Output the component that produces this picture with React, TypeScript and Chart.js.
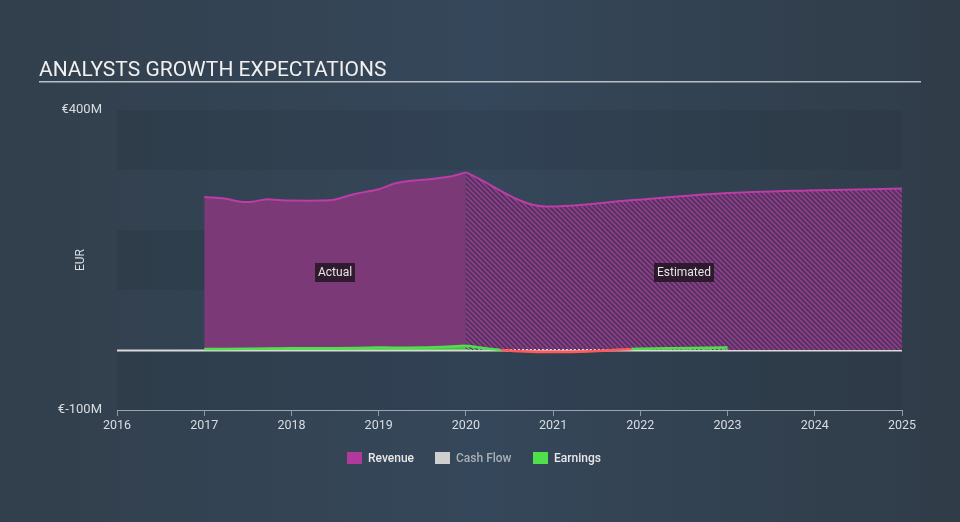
import React, { useEffect, useRef } from "react";
import { Chart, registerables } from "chart.js";

Chart.register(...registerables);

// ---------- data ----------
const yearTicks = [2016, 2017, 2018, 2019, 2020, 2021, 2022, 2023, 2024, 2025];
const yTickValues = [-100, 400];
const yTickLabels = ["€-100M", "€400M"];

const revenueActualYears = [2017.0, 2017.1, 2017.25, 2017.42, 2017.55, 2017.7, 2017.85, 2018.0, 2018.33, 2018.5, 2018.72, 2019.0, 2019.17, 2019.3, 2019.6, 2019.82, 2020.0];
const revenueActualValues = [255, 254, 252, 247, 247, 251, 250, 249, 249, 251, 260, 268, 277, 281, 285, 289, 296];

const revenueEstYears = [2020.0, 2020.92, 2021.92, 2022.92, 2023.92, 2025.0];
const revenueEstValues = [296, 239, 250, 261, 266, 269];

const earningsActualYears = [2017.0, 2017.5, 2018.0, 2018.5, 2019.0, 2019.5, 2020.0];
const earningsActualValues = [1.5, 2, 3, 3, 4, 4, 7];

const earningsEstYears = [2020.0, 2020.4, 2020.95, 2021.4, 2021.9, 2022.4, 2023.0];
const earningsEstValues = [7, 0, -3.5, -2.5, 1.5, 3, 4];

const cashFlowActualYears = [2017.0, 2018.0, 2019.0, 2020.0];
const cashFlowActualValues = [0.8, 0.8, 0.8, 0.8];

const cashFlowEstYears = [2020.0, 2021.0, 2022.0, 2023.0];
const cashFlowEstValues = [0.5, 0.5, 0.5, 0.5];

const legendLabels = ["Revenue", "Cash Flow", "Earnings"];
const legendColors = ["#b0399c", "#cfcfcf", "#4fe04b"];
const legendTextColors = ["#e8e8e8", "#a9b0b8", "#e8e8e8"];

const titleText = "ANALYSTS GROWTH EXPECTATIONS";
const axisTitle = "EUR";
const actualLabel = "Actual";
const estimatedLabel = "Estimated";

const toPoints = (xs: number[], ys: number[]) => xs.map((x, i) => ({ x, y: ys[i] }));

function makePattern(base: string, line: string, size: number, lw: number) {
  const c = document.createElement("canvas");
  c.width = size;
  c.height = size;
  const g = c.getContext("2d")!;
  g.fillStyle = base;
  g.fillRect(0, 0, size, size);
  g.strokeStyle = line;
  g.lineWidth = lw;
  g.beginPath();
  g.moveTo(-1, -1);
  g.lineTo(size + 1, size + 1);
  g.moveTo(-1, size - 1);
  g.lineTo(1, size + 1);
  g.moveTo(size - 1, -1);
  g.lineTo(size + 1, 1);
  g.stroke();
  const p = g.createPattern(c, "repeat");
  return p as CanvasPattern;
}

export default function App() {
  const ref = useRef<HTMLCanvasElement>(null);

  useEffect(() => {
    const canvas = ref.current!;

    const revPattern = makePattern("rgba(80,52,92,1)", "#923d8e", 5, 1.6);
    const earnPattern = makePattern("rgba(60,120,70,0.5)", "#55e050", 5, 1.2);

    const bgPlugin = {
      id: "bg",
      beforeDraw(chart: any) {
        const { ctx, width, height } = chart;
        const g = ctx.createLinearGradient(0, 0, width, 0);
        g.addColorStop(0, "#323f4c");
        g.addColorStop(0.5, "#35475a");
        g.addColorStop(1, "#303c48");
        ctx.save();
        ctx.fillStyle = g;
        ctx.fillRect(0, 0, width, height);
        // title
        ctx.fillStyle = "#f0f0f0";
        ctx.font = "21px Roboto";
        ctx.textBaseline = "alphabetic";
        ctx.textAlign = "left";
        ctx.fillText(titleText, 39, 76);
        ctx.fillStyle = "rgba(200,205,212,0.9)";
        ctx.fillRect(39, 81, 882, 1.5);
        // bands
        const ys = chart.scales.y;
        const ca = chart.chartArea;
        const bands = [[300, 400], [100, 200], [-100, 0]];
        ctx.fillStyle = "rgba(20,30,40,0.1)";
        bands.forEach(([a, b]) => {
          const t = ys.getPixelForValue(b);
          const btm = ys.getPixelForValue(a);
          ctx.fillRect(ca.left, t, ca.right - ca.left, btm - t);
        });
        // axis title
        ctx.save();
        ctx.translate(81, (ca.top + ca.bottom) / 2);
        ctx.rotate(-Math.PI / 2);
        ctx.fillStyle = "#d8dde2";
        ctx.font = "12px Roboto";
        ctx.textAlign = "center";
        ctx.textBaseline = "middle";
        ctx.fillText(axisTitle, 0, 0);
        ctx.restore();
        ctx.restore();
      },
      beforeDatasetsDraw(chart: any) {
        const { ctx } = chart;
        const ys = chart.scales.y;
        const ca = chart.chartArea;
        const y0 = ys.getPixelForValue(0);
        ctx.save();
        ctx.fillStyle = "#d9d9d9";
        ctx.fillRect(ca.left, y0 - 0.5, ca.right - ca.left, 2);
        ctx.restore();
      },
      afterDraw(chart: any) {
        const { ctx } = chart;
        const xs = chart.scales.x;
        const ys = chart.scales.y;
        ctx.save();
        ctx.font = "12px Roboto";
        ctx.textBaseline = "middle";
        ctx.textAlign = "center";
        const boxes = [
          [actualLabel, (2017 + 2020) / 2],
          [estimatedLabel, (2020 + 2025) / 2],
        ] as [string, number][];
        boxes.forEach(([label, xv]) => {
          const cx = xs.getPixelForValue(xv);
          const cy = ys.getPixelForValue(130);
          const w = ctx.measureText(label).width + 6;
          ctx.fillStyle = "rgba(36,22,36,0.88)";
          ctx.fillRect(Math.round(cx - w / 2), Math.round(cy - 9.5), Math.round(w), 19);
          ctx.fillStyle = "#e6e6e6";
          ctx.fillText(label, cx, cy + 0.5);
        });
        // legend
        const boxX = [347, 435, 533];
        legendLabels.forEach((lab, i) => {
          ctx.fillStyle = legendColors[i];
          ctx.fillRect(boxX[i], 452, 15, 12);
          ctx.fillStyle = legendTextColors[i];
          ctx.textAlign = "left";
          ctx.font = "500 12px Roboto";
          ctx.fillText(lab, boxX[i] + 21, 458.5);
        });
        ctx.restore();
      },
    };

    const chart = new Chart(canvas, {
      type: "line",
      data: {
        datasets: [
          {
            label: "Earnings actual",
            data: toPoints(earningsActualYears, earningsActualValues),
            borderColor: "#4fe04b",
            backgroundColor: "rgba(79,224,75,0.75)",
            borderWidth: 2.5,
            fill: "origin",
            pointRadius: 0,
            tension: 0.3,
            order: 0,
          },
          {
            label: "Earnings estimated",
            data: toPoints(earningsEstYears, earningsEstValues),
            borderColor: "#4fe04b",
            segment: {
              borderColor: (c: any) =>
                c.p0.parsed.y < 0 || c.p1.parsed.y < 0 ? "#ff5a5a" : "#4fe04b",
            },
            backgroundColor: earnPattern,
            borderWidth: 2.5,
            fill: { target: "origin", above: earnPattern, below: "rgba(255,90,90,0.35)" },
            pointRadius: 0,
            cubicInterpolationMode: "monotone",
            order: 0,
          },
          {
            label: "Cash Flow actual",
            data: toPoints(cashFlowActualYears, cashFlowActualValues),
            borderColor: "#c9bf9a",
            borderWidth: 1,
            fill: false,
            pointRadius: 0,
            order: 1,
          },
          {
            label: "Cash Flow estimated",
            data: toPoints(cashFlowEstYears, cashFlowEstValues),
            borderColor: "#e0e0e0",
            borderDash: [2, 2],
            borderWidth: 1.5,
            fill: false,
            pointRadius: 0,
            order: 1,
          },
          {
            label: "Revenue actual",
            data: toPoints(revenueActualYears, revenueActualValues),
            borderColor: "#bd3ca6",
            backgroundColor: "#7b3a77",
            borderWidth: 2,
            fill: "origin",
            pointRadius: 0,
            tension: 0.3,
            order: 2,
          },
          {
            label: "Revenue estimated",
            data: toPoints(revenueEstYears, revenueEstValues),
            borderColor: "#bd3ca6",
            backgroundColor: revPattern,
            borderWidth: 2,
            fill: "origin",
            pointRadius: 0,
            cubicInterpolationMode: "monotone",
            order: 2,
          },
        ],
      },
      options: {
        responsive: false,
        animation: false,
        devicePixelRatio: 1,
        layout: { padding: { left: 0, right: 58, top: 110, bottom: 0 } },
        plugins: {
          legend: { display: false },
          tooltip: { enabled: false },
          title: { display: false },
        },
        scales: {
          x: {
            type: "linear",
            min: 2016,
            max: 2025,
            afterBuildTicks: (s: any) => {
              s.ticks = yearTicks.map((v) => ({ value: v }));
            },
            afterFit: (s: any) => {
              s.height = 112;
            },
            ticks: {
              callback: (v: any) => String(v),
              color: "#d8dde2",
              font: { size: 12.5, family: "Roboto" },
              padding: 2,
              maxRotation: 0,
              autoSkip: false,
            },
            grid: {
              display: true,
              drawOnChartArea: false,
              drawTicks: true,
              tickLength: 6,
              color: "#8d98a3",
            },
            border: { display: true, color: "#9aa4ae", width: 1 },
          },
          y: {
            type: "linear",
            min: -100,
            max: 400,
            afterBuildTicks: (s: any) => {
              s.ticks = yTickValues.map((v) => ({ value: v }));
            },
            afterFit: (s: any) => {
              s.width = 117;
            },
            ticks: {
              callback: (v: any) => yTickLabels[yTickValues.indexOf(Number(v))],
              color: "#d8dde2",
              font: { size: 13, family: "Roboto" },
              padding: 15,
            },
            grid: { display: false, drawTicks: false },
            border: { display: false },
          },
        },
      } as any,
      plugins: [bgPlugin],
    });
    return () => chart.destroy();
  }, []);

  return (
    <div style={{ position: "fixed", left: 0, top: 0, width: 960, height: 522 }}>
      <canvas ref={ref} width={960} height={522} style={{ display: "block" }} />
    </div>
  );
}
